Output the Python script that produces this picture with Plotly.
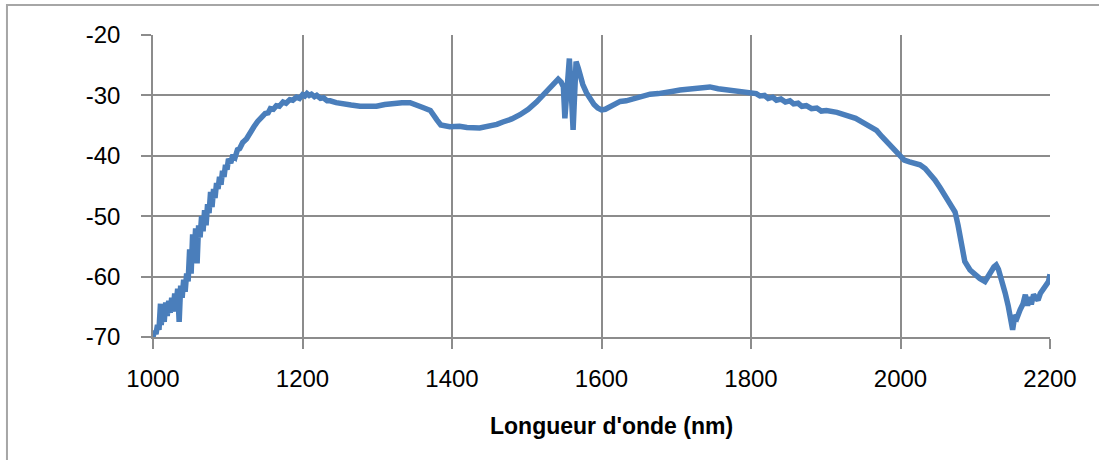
import plotly.graph_objects as go

wavelength = [1000, 1002, 1004, 1006, 1008, 1010, 1011, 1013, 1015, 1017, 1019, 1021, 1023, 1025, 1027,
              1029, 1031, 1033, 1035, 1037, 1039, 1041, 1043, 1045, 1047, 1049, 1051, 1053, 1055, 1057,
              1059, 1061, 1063, 1065, 1067, 1069, 1071, 1073, 1075, 1077, 1079, 1081, 1083, 1085, 1087,
              1089, 1091, 1093, 1095, 1097, 1099, 1101, 1104, 1107, 1110, 1113, 1116, 1120, 1125, 1130,
              1135, 1140, 1145, 1150, 1154, 1157, 1161, 1165, 1169, 1174, 1178, 1183, 1187, 1192, 1196,
              1200, 1203, 1206, 1209, 1212, 1216, 1219, 1224, 1228, 1233, 1237,
              1245, 1254, 1265, 1277, 1288, 1299, 1310, 1321, 1333, 1344, 1352, 1361, 1371, 1376, 1380,
              1385, 1390, 1397, 1410, 1420, 1437, 1450, 1460, 1468, 1480, 1491, 1502, 1513, 1522, 1531,
              1537, 1542, 1546, 1549, 1551, 1553, 1555, 1557, 1559, 1562, 1564, 1566, 1569, 1572, 1575,
              1580, 1585, 1590, 1595, 1600, 1605, 1611, 1618, 1625, 1633, 1642, 1653, 1665, 1676, 1687,
              1696, 1705, 1714, 1723, 1734, 1745, 1756, 1767, 1778, 1789, 1798, 1807, 1812, 1818, 1823,
              1829, 1834, 1840, 1846, 1852, 1857, 1863, 1868, 1874, 1881, 1888, 1894, 1901, 1915, 1928,
              1940, 1950, 1960, 1968, 1975, 1986, 1993, 1999,
              2005, 2012, 2020, 2026, 2033, 2039, 2046, 2053, 2060, 2066, 2073, 2077, 2080, 2083, 2086,
              2093, 2100, 2106, 2113, 2117, 2120, 2125, 2128, 2131, 2133, 2137, 2140, 2144, 2147, 2150,
              2153, 2156, 2160, 2164, 2167, 2170, 2173, 2175, 2178, 2181, 2184, 2187, 2191, 2195, 2198,
              2200]

power_db = [-70.0, -69.0, -69.5, -68.0, -68.8, -64.5, -68.0, -65.0, -67.5, -64.3, -66.5, -64.0, -66.0, -63.5, -65.8,
            -62.8, -64.5, -62.0, -67.5, -61.5, -63.5, -60.5, -62.5, -59.5, -60.8, -55.5, -59.5, -53.0, -56.5, -52.0,
            -57.8, -51.5, -53.5, -50.0, -52.5, -49.0, -51.5, -48.0, -49.5, -46.0, -48.5, -45.5, -47.0, -44.5, -45.5,
            -43.5, -44.8, -42.5, -43.5, -41.5, -42.3, -40.5, -41.2, -39.8, -40.2, -39.0, -38.8, -37.8, -37.2, -36.0,
            -35.2, -34.3, -33.7, -33.0, -32.9, -32.2, -32.3, -31.7, -31.8, -31.1, -31.3, -30.7, -30.8, -30.3, -30.5,
            -29.9, -30.1, -29.7, -30.0, -29.8, -30.2, -30.0, -30.5, -30.4, -30.9, -30.9,
            -31.2, -31.3, -31.6, -31.8, -31.9, -31.8, -31.5, -31.3, -31.2, -31.2, -31.5, -32.0, -32.5, -33.2, -34.1,
            -34.9, -35.1, -35.2, -35.1, -35.3, -35.4, -35.1, -34.8, -34.4, -33.9, -33.2, -32.3, -31.1, -30.0, -28.8,
            -27.9, -27.3, -27.8, -28.6, -33.8, -30.0, -25.0, -23.9, -28.0, -35.7, -30.0, -24.4, -25.5, -27.0, -28.2,
            -29.6, -30.6, -31.5, -32.1, -32.4, -32.3, -31.9, -31.3, -31.0, -30.9, -30.6, -30.2, -29.8, -29.7, -29.6,
            -29.3, -29.1, -29.0, -28.9, -28.7, -28.6, -28.9, -29.1, -29.3, -29.5, -29.6, -29.7, -30.1, -30.0, -30.5,
            -30.3, -30.8, -30.6, -31.1, -30.9, -31.4, -31.3, -31.8, -31.7, -32.2, -32.1, -32.6, -32.5, -32.8, -33.3,
            -33.8, -34.5, -35.1, -35.8, -36.8, -38.2, -39.2, -40.1,
            -40.7, -41.0, -41.3, -41.5, -42.1, -42.9, -44.0, -45.3, -46.6, -47.6, -49.3, -51.5, -53.9, -56.0, -57.5,
            -58.9, -59.7, -60.3, -60.8, -60.2, -59.4, -58.4, -58.1, -58.8, -59.6, -61.2, -62.7, -64.8, -66.6, -68.8,
            -66.4, -66.8, -65.5, -64.5, -63.0, -64.8, -63.4, -64.6, -63.0, -63.5, -63.9, -62.8, -62.2, -61.5, -60.8,
            -59.6]

x_ticks = [1000, 1200, 1400, 1600, 1800, 2000, 2200]
y_ticks = [-20, -30, -40, -50, -60, -70]
x_title = "Longueur d'onde (nm)"

grid = "#8c8c8c"

fig = go.Figure()
fig.add_trace(go.Scatter(x=wavelength, y=power_db, mode="lines",
                         line=dict(color="#4a7ebb", width=5.5), showlegend=False))

fig.update_layout(
    width=1099, height=460,
    margin=dict(l=153, r=49, t=35, b=123),
    paper_bgcolor="white", plot_bgcolor="white",
    font=dict(family="Liberation Sans, Arial", size=24, color="black"),
    xaxis=dict(range=[1000, 2200], tickvals=x_ticks, ticktext=[str(v) for v in x_ticks],
               showgrid=True, gridcolor=grid, gridwidth=1.5,
               showline=True, linecolor=grid, linewidth=1.5,
               ticks="outside", ticklen=10, tickcolor=grid, tickwidth=1.5,
               zeroline=False, ticklabelstandoff=9, tickfont=dict(size=24)),
    yaxis=dict(range=[-70, -20], tickvals=y_ticks, ticktext=[str(v) for v in y_ticks],
               showgrid=True, gridcolor=grid, gridwidth=1.5,
               showline=True, linecolor=grid, linewidth=1.5,
               ticks="outside", ticklen=10, tickcolor=grid, tickwidth=1.5,
               zeroline=False, ticklabelstandoff=16, tickfont=dict(size=24)),
    annotations=[dict(text="<b>" + x_title + "</b>", xref="paper", yref="paper",
                      x=0.5117, y=-0.2947, xanchor="center", yanchor="middle",
                      showarrow=False, font=dict(size=23, family="Liberation Sans, Arial"))],
    shapes=[dict(type="rect", xref="paper", yref="paper",
                 x0=-0.1628, y0=-0.6, x1=1.2, y1=1.0993,
                 line=dict(color="#a6a6a6", width=2), layer="below")],
)

fig.write_html("out.html")
